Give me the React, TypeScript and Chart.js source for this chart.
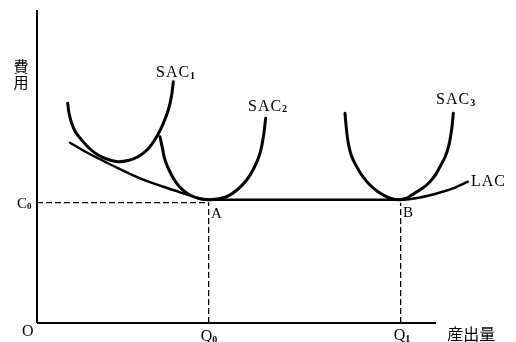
import { useEffect, useRef } from "react";
import { Chart, registerables } from "chart.js";

Chart.register(...registerables);

type P = { x: number; y: number };

// Key levels (data units)
const C0 = 30.75;
const Q0 = 43.0;
const Q1 = 91.1;
const X_AXIS_END = 100;
const Y_AXIS_END = 80;

// Short-run average cost curves
const sac1: P[] = [
  { x: 7.69, y: 56.15 },
  { x: 8.02, y: 53.67 },
  { x: 8.69, y: 51.04 },
  { x: 9.65, y: 48.82 },
  { x: 11.2, y: 46.77 },
  { x: 13.03, y: 44.73 },
  { x: 15.28, y: 42.94 },
  { x: 17.79, y: 41.79 },
  { x: 20.29, y: 41.23 },
  { x: 22.8, y: 41.53 },
  { x: 25.3, y: 42.5 },
  { x: 27.81, y: 44.47 },
  { x: 29.99, y: 47.62 },
  { x: 31.57, y: 50.86 },
  { x: 32.89, y: 54.44 },
  { x: 33.7, y: 58.02 },
  { x: 34.15, y: 61.67 },
];

const sac2: P[] = [
  { x: 30.81, y: 47.62 },
  { x: 31.44, y: 44.6 },
  { x: 32.07, y: 41.66 },
  { x: 33.44, y: 38.34 },
  { x: 35.0, y: 35.71 },
  { x: 36.58, y: 33.99 },
  { x: 38.33, y: 32.72 },
  { x: 40.58, y: 31.82 },
  { x: 42.91, y: 31.5 },
  { x: 45.09, y: 31.69 },
  { x: 47.52, y: 32.28 },
  { x: 50.1, y: 33.99 },
  { x: 52.53, y: 36.55 },
  { x: 54.36, y: 39.62 },
  { x: 55.87, y: 43.37 },
  { x: 56.74, y: 47.8 },
  { x: 57.29, y: 52.32 },
];

const sac3: P[] = [
  { x: 77.16, y: 53.6 },
  { x: 77.49, y: 49.84 },
  { x: 77.99, y: 45.93 },
  { x: 78.79, y: 42.68 },
  { x: 80.09, y: 39.95 },
  { x: 81.67, y: 37.32 },
  { x: 83.42, y: 35.27 },
  { x: 85.18, y: 33.74 },
  { x: 86.76, y: 32.72 },
  { x: 88.68, y: 31.82 },
  { x: 90.69, y: 31.5 },
  { x: 92.44, y: 31.82 },
  { x: 93.87, y: 32.72 },
  { x: 95.7, y: 33.87 },
  { x: 97.63, y: 35.27 },
  { x: 99.46, y: 37.32 },
  { x: 100.96, y: 39.95 },
  { x: 102.34, y: 42.68 },
  { x: 103.29, y: 45.93 },
  { x: 103.92, y: 49.84 },
  { x: 104.29, y: 53.6 },
];

// Long-run average cost curve
const lac: P[] = [
  { x: 8.27, y: 46.08 },
  { x: 12.85, y: 43.37 },
  { x: 19.54, y: 39.95 },
  { x: 25.8, y: 36.98 },
  { x: 34.15, y: 33.99 },
  { x: 41.67, y: 31.62 },
  { x: 42.96, y: 31.5 },
  { x: 90.94, y: 31.5 },
  { x: 95.95, y: 32.08 },
  { x: 100.96, y: 33.35 },
  { x: 104.72, y: 34.63 },
  { x: 107.97, y: 36.12 },
];

// Label texts
const curveLabels = [
  { main: "SAC", sub: "1", x: 29.81, y: 64.15 },
  { main: "SAC", sub: "2", x: 52.86, y: 55.59 },
  { main: "SAC", sub: "3", x: 99.96, y: 57.25 },
  { main: "LAC", sub: "", x: 108.73, y: 36.29 },
];
const pointLabels = [
  { main: "A", x: 43.59, y: 28.19 },
  { main: "B", x: 91.69, y: 28.45 },
];
const yAxisTitle = ["費", "用"];
const xAxisTitle = "産出量";

const SERIF = '"Liberation Serif", "Times New Roman", serif';
const CJK = '"Noto Sans CJK JP", sans-serif';

function drawSub(
  ctx: CanvasRenderingContext2D,
  main: string,
  sub: string,
  x: number,
  yc: number,
  size: number,
  spacing: number
) {
  ctx.font = `${size}px ${SERIF}`;
  (ctx as any).letterSpacing = `${spacing}px`;
  ctx.textAlign = "left";
  ctx.textBaseline = "alphabetic";
  const base = yc + size * 0.331;
  ctx.fillText(main, x, base);
  const w = ctx.measureText(main).width;
  if (sub) {
    ctx.font = `bold ${Math.round(size * 0.62)}px ${SERIF}`;
    (ctx as any).letterSpacing = "0px";
    ctx.fillText(sub, x + w, base + 1.5);
  }
  (ctx as any).letterSpacing = "0px";
}

const labelPlugin = {
  id: "econLabels",
  afterDatasetsDraw(chart: any) {
    const ctx: CanvasRenderingContext2D = chart.ctx;
    const xs = chart.scales.x;
    const ys = chart.scales.y;
    const area = chart.chartArea;
    ctx.save();
    ctx.fillStyle = "#000";

    curveLabels.forEach((l) => {
      drawSub(ctx, l.main, l.sub, xs.getPixelForValue(l.x), ys.getPixelForValue(l.y), 16, 1);
    });
    pointLabels.forEach((l) => {
      drawSub(ctx, l.main, "", xs.getPixelForValue(l.x), ys.getPixelForValue(l.y), 15, 0);
    });

    // C0 on y axis
    drawSub(ctx, "C", "0", area.left - 20, ys.getPixelForValue(C0), 15, 0);
    // Origin
    drawSub(ctx, "O", "", area.left - 15, area.bottom + 8, 16, 0);
    // Q0, Q1
    drawSub(ctx, "Q", "0", xs.getPixelForValue(Q0) - 8, area.bottom + 13, 16, 0);
    drawSub(ctx, "Q", "1", xs.getPixelForValue(Q1) - 7, area.bottom + 12, 16, 0);

    // Axis titles (CJK)
    ctx.font = `15px ${CJK}`;
    ctx.textAlign = "center";
    ctx.textBaseline = "middle";
    yAxisTitle.forEach((ch, i) => {
      ctx.fillText(ch, area.left - 16, 66 + i * 16);
    });
    ctx.font = `16px ${CJK}`;
    ctx.textAlign = "left";
    ctx.fillText(xAxisTitle, xs.getPixelForValue(X_AXIS_END) + 11, area.bottom + 11);
    ctx.restore();
  },
};

export default function App() {
  const ref = useRef<HTMLCanvasElement>(null);

  useEffect(() => {
    const canvas = ref.current!;
    const curve = (data: P[], width: number, tension: number, monotone = false) => ({
      data,
      showLine: true,
      borderColor: "#000",
      backgroundColor: "#000",
      borderWidth: width,
      pointRadius: 0,
      tension,
      cubicInterpolationMode: monotone ? ("monotone" as const) : ("default" as const),
      fill: false,
      clip: false as any,
      borderCapStyle: "round" as const,
      borderJoinStyle: "round" as const,
    });
    const dashed = (data: P[]) => ({
      data,
      showLine: true,
      borderColor: "#000",
      borderWidth: 1.3,
      borderDash: [6, 3],
      pointRadius: 0,
      tension: 0,
      fill: false,
      clip: false as any,
    });

    const chart = new Chart(canvas, {
      type: "scatter",
      data: {
        datasets: [
          // axes
          {
            ...curve([{ x: 0, y: 0 }, { x: 0, y: Y_AXIS_END }], 2, 0),
            borderCapStyle: "butt" as const,
          },
          {
            ...curve([{ x: 0, y: 0 }, { x: X_AXIS_END, y: 0 }], 2, 0),
            borderCapStyle: "butt" as const,
          },
          // guides
          dashed([{ x: 0, y: C0 }, { x: Q0, y: C0 }]),
          dashed([{ x: Q0, y: 0 }, { x: Q0, y: C0 }]),
          dashed([{ x: Q1, y: 0 }, { x: Q1, y: C0 }]),
          // curves
          curve(sac1, 3, 0.4),
          curve(sac2, 3, 0.4),
          curve(sac3, 3, 0.4),
          curve(lac, 2.4, 0.4, true),
        ] as any,
      },
      options: {
        animation: false,
        responsive: false,
        devicePixelRatio: 1,
        events: [],
        layout: { padding: { left: 37, top: 10, right: 0, bottom: 19 } },
        plugins: {
          legend: { display: false },
          tooltip: { enabled: false },
        },
        scales: {
          x: { type: "linear", display: false, min: 0, max: 120 },
          y: { type: "linear", display: false, min: 0, max: 80 },
        },
      },
      plugins: [labelPlugin],
    });
    return () => chart.destroy();
  }, []);

  return (
    <div
      style={{
        position: "fixed",
        left: 0,
        top: 0,
        width: 516,
        height: 342,
        background: "#fff",
      }}
    >
      <canvas ref={ref} width={516} height={342} style={{ display: "block" }} />
    </div>
  );
}
